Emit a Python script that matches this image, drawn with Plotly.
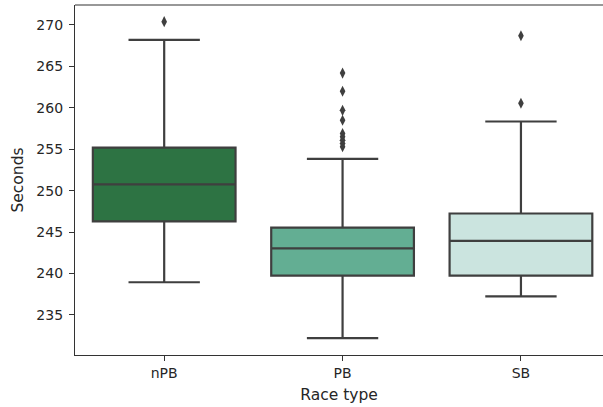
import plotly.graph_objects as go

# Race time distribution (seconds) by race type
categories = ["nPB", "PB", "SB"]
lower_whisker = [238.95, 232.2, 237.25]
q1_values = [246.3, 239.75, 239.75]
medians = [250.75, 243.05, 243.95]
q3_values = [255.2, 245.55, 247.25]
upper_whisker = [268.2, 253.85, 258.35]
outliers = {
    "nPB": [270.4],
    "PB": [264.2, 262.0, 259.7, 258.5, 256.9, 256.5, 256.1, 255.7, 255.3],
    "SB": [268.7, 260.55],
}
fill_colors = ["#2d7343", "#63ae93", "#cbe4df"]

edge = "#3f3f3f"
spine = "#333333"
font = "DejaVu Sans"

fig = go.Figure()
for i, cat in enumerate(categories):
    fig.add_trace(go.Box(
        x=[cat],
        lowerfence=[lower_whisker[i]],
        q1=[q1_values[i]],
        median=[medians[i]],
        q3=[q3_values[i]],
        upperfence=[upper_whisker[i]],
        fillcolor=fill_colors[i],
        line=dict(color=edge, width=2.2),
        width=0.8,
        whiskerwidth=0.5,
        boxpoints=False,
        showlegend=False,
        hoverinfo="skip",
    ))
    pts = outliers[cat]
    fig.add_trace(go.Scatter(
        x=[cat] * len(pts),
        y=pts,
        mode="markers",
        marker=dict(symbol="diamond-tall", size=8, color=edge, line=dict(width=0)),
        showlegend=False,
        hoverinfo="skip",
    ))

# top spine (the right spine falls outside the visible area)
fig.add_shape(type="line", xref="paper", yref="paper", x0=0, x1=1, y0=1, y1=1,
              line=dict(color=spine, width=1.2))

fig.update_layout(
    width=603,
    height=407,
    margin=dict(l=75, r=0, t=5, b=52),
    paper_bgcolor="white",
    plot_bgcolor="white",
    boxmode="overlay",
    font=dict(family=font, size=14, color="#262626"),
)
fig.update_xaxes(
    type="category",
    categoryorder="array",
    categoryarray=categories,
    range=[-0.5, 2.46],
    showline=True,
    linecolor=spine,
    linewidth=1.2,
    mirror=False,
    ticks="outside",
    ticklen=5,
    tickcolor=spine,
    showgrid=False,
    zeroline=False,
    tickfont=dict(size=14),
    title=dict(text="Race type", font=dict(size=15.5), standoff=9),
    automargin=False,
)
fig.update_yaxes(
    range=[230.17, 272.41],
    tickvals=[235, 240, 245, 250, 255, 260, 265, 270],
    showline=True,
    mirror=False,
    linecolor=spine,
    linewidth=1.2,
    ticks="outside",
    ticklen=5,
    tickcolor=spine,
    ticklabelstandoff=3,
    showgrid=False,
    zeroline=False,
    tickfont=dict(size=14),
    title=dict(text="Seconds", font=dict(size=15.5), standoff=8),
    automargin=False,
)

fig.write_html("out.html")
